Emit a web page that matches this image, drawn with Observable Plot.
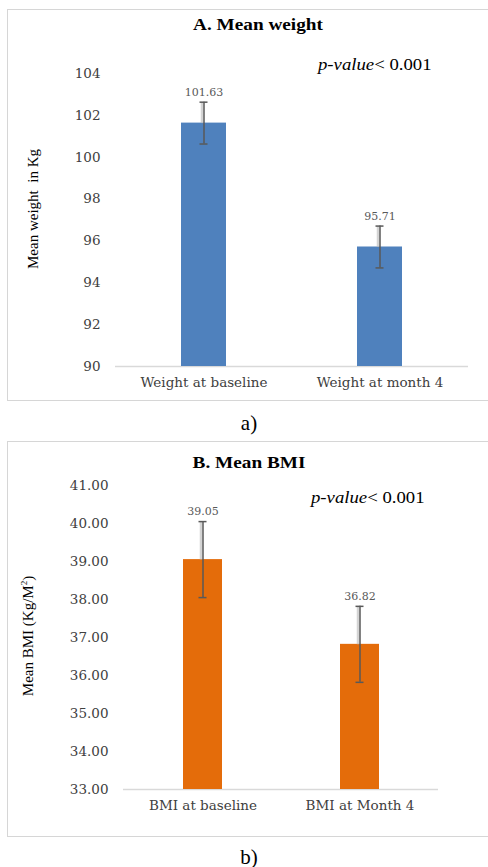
<!DOCTYPE html>
<html>
<head>
<meta charset="utf-8">
<script src="https://cdn.jsdelivr.net/npm/d3@7"></script>
<script src="https://cdn.jsdelivr.net/npm/@observablehq/plot@0.6"></script>
<style>
  html, body { margin: 0; padding: 0; background: #fff; }
  body { position: relative; width: 488px; height: 867px; overflow: hidden; }
  .box { position: absolute; border: 1.5px solid #d6d6d6; box-sizing: border-box; }
  .plot { position: absolute; }
  .t { position: absolute; transform: translate(-50%, -50%); white-space: nowrap; color: #000; }
  .title { font-family: "Liberation Serif", serif; font-weight: bold; font-size: 16.6px; transform: translate(-50%, -50%) scaleX(1.16); }
  .pval { position: absolute; transform-origin: 0 50%; transform: translateY(-50%) scaleX(1.17); white-space: nowrap; font-family: "Liberation Serif", serif; font-size: 16px; color: #000; }
  .ylab { font-family: "Liberation Serif", serif; font-size: 15px; transform: translate(-50%, -50%) rotate(-90deg); }
  .cap { font-family: "Liberation Serif", serif; font-size: 21px; }
</style>
</head>
<body>
<script>
// ---- Panel A data ----
const categoriesA = ["Weight at baseline", "Weight at month 4"];
const meansA = [101.63, 95.71];
const errorsA = [1.0, 1.0];
const yTicksA = [90, 92, 94, 96, 98, 100, 102, 104];
// ---- Panel B data ----
const categoriesB = ["BMI at baseline", "BMI at Month 4"];
const meansB = [39.05, 36.82];
const errorsB = [1.0, 1.0];
const yTicksB = [33, 34, 35, 36, 37, 38, 39, 40, 41];

function panel(cats, means, errs, ticks, opts) {
  const data = cats.map((c, i) => ({cat: c, mean: means[i], lo: means[i] - errs[i], hi: means[i] + errs[i]}));
  return Plot.plot({
    width: opts.width,
    height: opts.height,
    marginLeft: opts.ml, marginRight: opts.mr, marginTop: opts.mt, marginBottom: opts.mb,
    style: {fontFamily: "DejaVu Serif, serif", fontSize: "13.5px", color: "#404040", background: "transparent", overflow: "visible"},
    x: {type: "band", domain: cats, paddingInner: opts.pi, paddingOuter: opts.po, label: null, tickSize: 0, tickPadding: 11},
    y: {domain: [ticks[0], ticks[ticks.length - 1]], ticks: ticks, tickFormat: opts.fmt, label: null, tickSize: 0, tickPadding: 15},
    marks: [
      Plot.ruleY([ticks[0]], {stroke: "#d9d9d9", strokeWidth: 1.5}),
      Plot.barY(data, {x: "cat", y1: ticks[0], y2: "mean", fill: opts.color}),
      Plot.link(data, {x1: "cat", x2: "cat", y1: "hi", y2: "mean", stroke: "#b8b8b8", strokeWidth: 2.5, strokeOpacity: 0.6, dx: -2}),
      Plot.ruleX(data, {x: "cat", y1: "lo", y2: "hi", stroke: "#595959", strokeWidth: 1.5}),
      Plot.tickY(data, {x: "cat", y: "hi", stroke: "#595959", strokeWidth: 1.5, insetLeft: opts.capInset, insetRight: opts.capInset}),
      Plot.tickY(data, {x: "cat", y: "lo", stroke: "#595959", strokeWidth: 1.5, insetLeft: opts.capInset, insetRight: opts.capInset}),
      Plot.text(data, {x: "cat", y: "hi", text: d => d.mean.toFixed(2), dy: -10, fill: "#595959", fontSize: 11, fontFamily: "DejaVu Serif, serif"})
    ]
  });
}

function place(el, left, top) {
  el.classList.add("plot");
  el.style.left = left + "px";
  el.style.top = top + "px";
  document.body.appendChild(el);
}
function box(left, top, w, h) {
  const d = document.createElement("div");
  d.className = "box";
  Object.assign(d.style, {left: left + "px", top: top + "px", width: w + "px", height: h + "px"});
  document.body.appendChild(d);
}
function text(cls, html, x, y) {
  const d = document.createElement("div");
  d.className = "t " + cls;
  d.innerHTML = html;
  d.style.left = x + "px";
  d.style.top = y + "px";
  document.body.appendChild(d);
}
function pval(x, y) {
  const d = document.createElement("div");
  d.className = "pval";
  d.innerHTML = "<i>p-value</i>&lt; 0.001";
  d.style.left = x + "px";
  d.style.top = y + "px";
  document.body.appendChild(d);
}

// Panel A
box(7, 9, 490, 392);
place(panel(categoriesA, meansA, errorsA, yTicksA, {
  width: 481, height: 391, ml: 108, mr: 20, mt: 64, mb: 34,
  pi: 0.745, po: 0.3725, color: "#4f81bd", capInset: 18.5, fmt: d3.format("d")
}), 7, 9);
text("title", "A. Mean weight", 258, 25);
pval(318, 65);
text("ylab", "Mean weight&nbsp; in Kg", 33, 209);
text("cap", "a)", 249, 423);

// Panel B
box(7, 441, 490, 396);
place(panel(categoriesB, meansB, errorsB, yTicksB, {
  width: 481, height: 395, ml: 116, mr: 50, mt: 43, mb: 48,
  pi: 0.752, po: 0.376, color: "#e46c0a", capInset: 15.5, fmt: d3.format(".2f")
}), 7, 442);
text("title", "B. Mean BMI", 249, 463);
pval(311, 498);
text("ylab", "Mean BMI (Kg/M<sup style='font-size:9px'>2</sup>)", 28, 636);
text("cap", "b)", 249, 857);
</script>
</body>
</html>
